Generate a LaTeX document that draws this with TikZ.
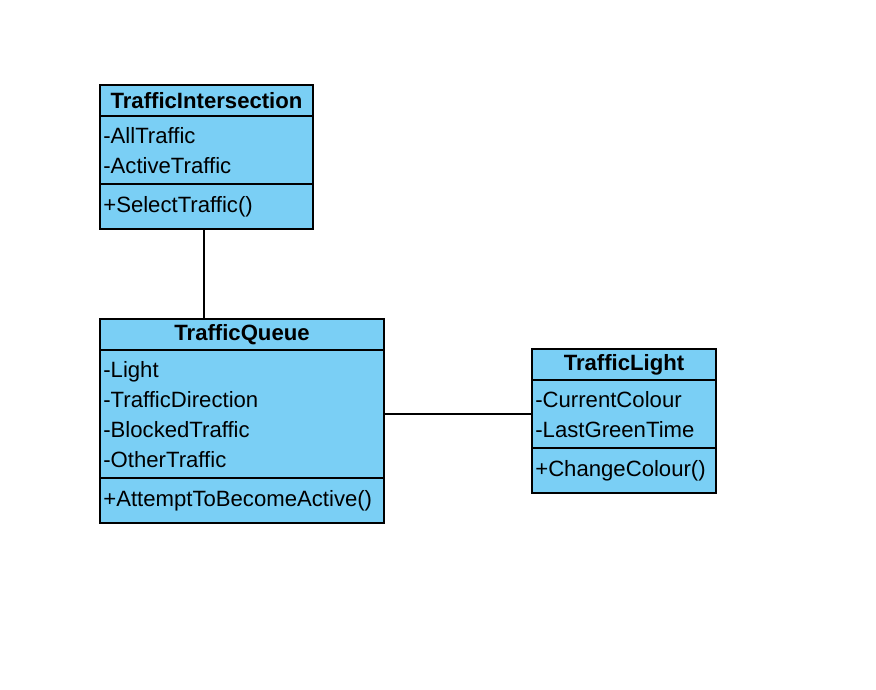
\documentclass[tikz,border=0pt]{standalone}
\usepackage{fontspec}
\setmainfont{Liberation Sans}
\usetikzlibrary{positioning}
\definecolor{classBlue}{RGB}{122,207,245}
\tikzset{
	classhead/.style={rectangle, draw=black, line width=1.2pt, fill=classBlue,
		minimum height=23.25pt, inner xsep=2pt, inner ysep=0pt, outer sep=0pt, align=center,
		font=\fontsize{16.6}{22.5}\selectfont\bfseries},
	classbody/.style={rectangle, draw=black, line width=1.2pt, fill=classBlue,
		inner xsep=2.5pt, inner ysep=0pt, outer sep=0pt, align=left,
		font=\fontsize{16.6}{22.5}\selectfont,
		execute at begin node=\strut, execute at end node=\strut},
	classattr/.style={classbody, execute at begin node=\rule{0pt}{18.75pt}},
	assoc/.style={draw=black, line width=1.2pt}
}
\begin{document}
\begin{tikzpicture}[x=0.75pt, y=-0.75pt]
	\useasboundingbox (0,0) rectangle (876,690);
	\node[classhead, anchor=north west, text width=155.75pt] (inter) at (100,85) {TrafficIntersection};
	\node[classattr, below=0pt of inter, text width=154.75pt, minimum height=51pt] (interattr) {-AllTraffic\\-ActiveTraffic};
	\node[classbody, below=0pt of interattr, text width=154.75pt, minimum height=33.75pt] (interops) {+SelectTraffic()};
	\node[classhead, anchor=north west, text width=209pt] (queue) at (100,319) {TrafficQueue};
	\node[classattr, below=0pt of queue, text width=208pt, minimum height=96pt] (queueattr) {-Light\\-TrafficDirection\\-BlockedTraffic\\-OtherTraffic};
	\node[classbody, below=0pt of queueattr, text width=208pt, minimum height=33.75pt] (queueops) {+AttemptToBecomeActive()};
	\node[classhead, anchor=north west, text width=134pt] (light) at (532,349) {TrafficLight};
	\node[classattr, below=0pt of light, text width=133pt, minimum height=51pt] (lightattr) {-CurrentColour\\-LastGreenTime};
	\node[classbody, below=0pt of lightattr, text width=133pt, minimum height=33.75pt] (lightops) {+ChangeColour()};
	\draw[assoc] ([xshift=-2pt]interops.south) -- ([xshift=-2pt]interops.south |- queue.north);
	\draw[assoc] (queueattr.east) -- (lightattr.west);
\end{tikzpicture}
\end{document}
